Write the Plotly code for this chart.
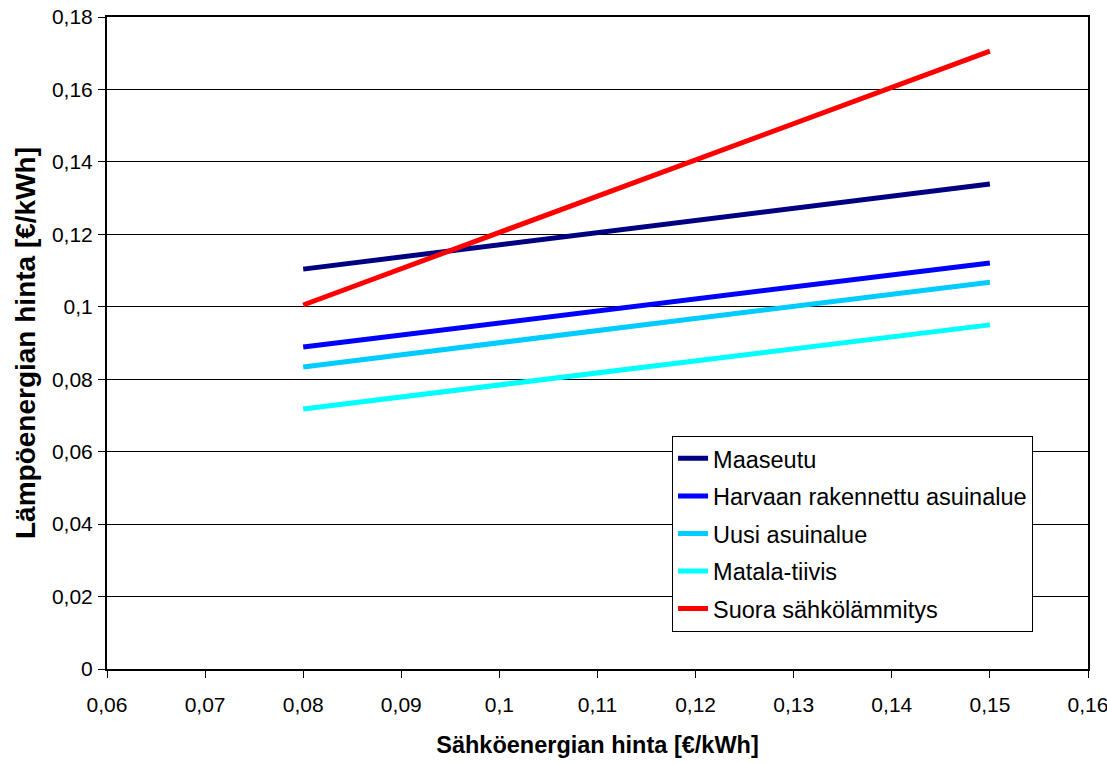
import plotly.graph_objects as go

x_vals = [0.08, 0.15]
series_names = ["Maaseutu", "Harvaan rakennettu asuinalue", "Uusi asuinalue",
                "Matala-tiivis", "Suora sähkölämmitys"]
maaseutu = [0.1104, 0.1339]
harvaan = [0.0889, 0.1121]
uusi = [0.0834, 0.1068]
matala = [0.0718, 0.0950]
suora = [0.1005, 0.1706]
colors = ["#000080", "#0000FF", "#00CCFF", "#00FFFF", "#FF0000"]

x_ticks = [0.06, 0.07, 0.08, 0.09, 0.10, 0.11, 0.12, 0.13, 0.14, 0.15, 0.16]
x_labels = ["0,06", "0,07", "0,08", "0,09", "0,1", "0,11", "0,12", "0,13", "0,14", "0,15", "0,16"]
y_ticks = [0, 0.02, 0.04, 0.06, 0.08, 0.10, 0.12, 0.14, 0.16, 0.18]
y_labels = ["0", "0,02", "0,04", "0,06", "0,08", "0,1", "0,12", "0,14", "0,16", "0,18"]

font = "Liberation Sans, Arial, sans-serif"
fig = go.Figure()
for name, ys, c in zip(series_names, [maaseutu, harvaan, uusi, matala, suora], colors):
    fig.add_trace(go.Scatter(x=x_vals, y=ys, mode="lines", name=name,
                             line=dict(color=c, width=5), legendgroup=name))

fig.update_layout(
    width=1107, height=763,
    margin=dict(l=107, r=19, t=17, b=94, autoexpand=False),
    paper_bgcolor="white", plot_bgcolor="white",
    font=dict(family=font, color="black", size=21),
    legend=dict(x=0.576, y=0.358, xanchor="left", yanchor="top",
                bgcolor="white", bordercolor="black", borderwidth=1,
                font=dict(size=23.5, family=font), tracegroupgap=4,
                itemwidth=30),
    xaxis=dict(range=[0.06, 0.16], tickvals=x_ticks, ticktext=x_labels,
               showgrid=False, showline=True, linecolor="black", linewidth=2,
               mirror=True, ticks="outside", ticklen=7, tickcolor="black",
               tickfont=dict(size=21), zeroline=False, automargin=False,
               ticklabeloverflow="allow", ticklabelstandoff=9,
               title=dict(text="<b>Sähköenergian hinta [€/kWh]</b>",
                          font=dict(size=23.5), standoff=21)),
    yaxis=dict(range=[0, 0.18], tickvals=y_ticks, ticktext=y_labels,
               showgrid=True, gridcolor="black", gridwidth=1,
               showline=True, linecolor="black", linewidth=2, mirror=True,
               ticks="outside", ticklen=7, tickcolor="black",
               tickfont=dict(size=21), zeroline=False, automargin=False,
               ticklabeloverflow="allow", ticklabelstandoff=1,
               title=dict(text="<b>Lämpöenergian hinta [€/kWh]</b>",
                          font=dict(size=28), standoff=8)),
)
fig.write_html("out.html", config={"displayModeBar": False},
               post_script="document.body.style.margin='0';")
